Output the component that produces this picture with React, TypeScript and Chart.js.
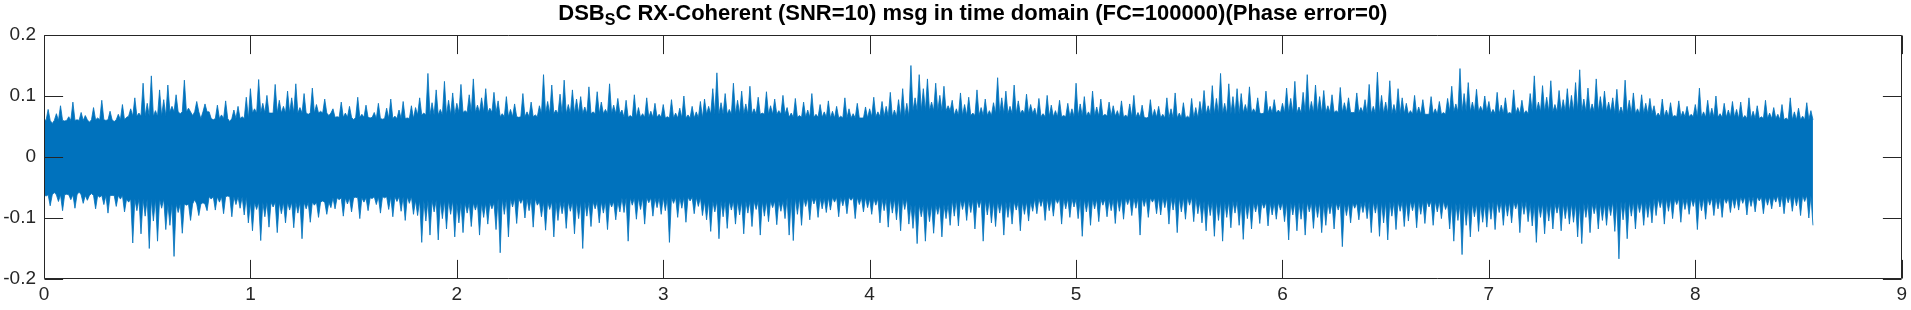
import React, { useEffect, useRef } from "react";
import { Chart, registerables } from "chart.js";

Chart.register(...registerables);

// ---- Text ----
const TITLE_MAIN = "DSB";
const TITLE_SUB = "S";
const TITLE_REST = "C RX-Coherent (SNR=10) msg in time domain (FC=100000)(Phase error=0)";

// ---- Axis ticks ----
const xTicks = [0, 1, 2, 3, 4, 5, 6, 7, 8, 9];
const yTicks = [-0.2, -0.1, 0, 0.1, 0.2];

// ---- Signal: spike tips (local max / min), one pair per 0.02 s (rows = 0.2 s) ----
const SAMPLE_STEP = 0.02;
const envMax = [
  0.062, 0.078, 0.055, 0.071, 0.084, 0.059, 0.066, 0.090, 0.061, 0.073,
  0.068, 0.057, 0.081, 0.064, 0.093, 0.060, 0.075, 0.058, 0.070, 0.086,
  0.065, 0.079, 0.097, 0.072, 0.121, 0.088, 0.133, 0.076, 0.110, 0.094,
  0.118, 0.083, 0.102, 0.071, 0.126, 0.080, 0.068, 0.091, 0.063, 0.087,
  0.074, 0.061, 0.085, 0.069, 0.092, 0.058, 0.077, 0.083, 0.066, 0.098,
  0.112, 0.079, 0.127, 0.088, 0.101, 0.072, 0.119, 0.093, 0.083, 0.108,
  0.097, 0.120, 0.081, 0.104, 0.070, 0.113, 0.086, 0.075, 0.095, 0.068,
  0.079, 0.066, 0.090, 0.072, 0.083, 0.061, 0.098, 0.070, 0.085, 0.064,
  0.073, 0.088, 0.062, 0.080, 0.095, 0.067, 0.077, 0.091, 0.064, 0.084,
  0.081, 0.097, 0.072, 0.137, 0.089, 0.110, 0.078, 0.124, 0.093, 0.105,
  0.088, 0.119, 0.076, 0.102, 0.128, 0.085, 0.097, 0.112, 0.080, 0.106,
  0.092, 0.071, 0.099, 0.078, 0.087, 0.065, 0.104, 0.074, 0.090, 0.069,
  0.084, 0.135, 0.091, 0.118, 0.077, 0.103, 0.126, 0.086, 0.110, 0.095,
  0.099, 0.082, 0.115, 0.074, 0.107, 0.090, 0.078, 0.120, 0.085, 0.096,
  0.077, 0.093, 0.068, 0.102, 0.081, 0.071, 0.097, 0.075, 0.088, 0.070,
  0.086, 0.066, 0.094, 0.072, 0.080, 0.100, 0.069, 0.083, 0.074, 0.091,
  0.095, 0.083, 0.112, 0.138, 0.089, 0.104, 0.078, 0.121, 0.093, 0.108,
  0.087, 0.116, 0.079, 0.098, 0.072, 0.107, 0.084, 0.095, 0.076, 0.101,
  0.081, 0.072, 0.096, 0.068, 0.090, 0.077, 0.104, 0.070, 0.086, 0.074,
  0.092, 0.075, 0.083, 0.067, 0.097, 0.079, 0.071, 0.088, 0.064, 0.082,
  0.079, 0.098, 0.074, 0.091, 0.083, 0.106, 0.077, 0.094, 0.112, 0.088,
  0.150, 0.097, 0.135, 0.112, 0.128, 0.090, 0.121, 0.101, 0.116, 0.084,
  0.093, 0.079, 0.105, 0.086, 0.098, 0.072, 0.110, 0.081, 0.095, 0.076,
  0.089, 0.130, 0.097, 0.108, 0.083, 0.118, 0.092, 0.077, 0.103, 0.086,
  0.080, 0.096, 0.071, 0.101, 0.085, 0.076, 0.093, 0.068, 0.088, 0.079,
  0.121, 0.087, 0.099, 0.074, 0.108, 0.082, 0.095, 0.070, 0.090, 0.084,
  0.076, 0.092, 0.069, 0.087, 0.101, 0.073, 0.085, 0.064, 0.094, 0.078,
  0.083, 0.070, 0.097, 0.079, 0.105, 0.072, 0.089, 0.067, 0.096, 0.081,
  0.091, 0.109, 0.084, 0.117, 0.096, 0.137, 0.088, 0.120, 0.099, 0.112,
  0.104, 0.086, 0.115, 0.079, 0.097, 0.071, 0.108, 0.083, 0.094, 0.077,
  0.088, 0.113, 0.096, 0.124, 0.082, 0.106, 0.135, 0.091, 0.118, 0.099,
  0.109, 0.084, 0.102, 0.076, 0.114, 0.089, 0.097, 0.073, 0.105, 0.081,
  0.094, 0.119, 0.083, 0.139, 0.101, 0.090, 0.125, 0.086, 0.112, 0.097,
  0.088, 0.076, 0.101, 0.082, 0.094, 0.070, 0.099, 0.079, 0.091, 0.073,
  0.096, 0.116, 0.087, 0.145, 0.104, 0.122, 0.090, 0.111, 0.083, 0.100,
  0.091, 0.078, 0.106, 0.085, 0.097, 0.073, 0.110, 0.081, 0.093, 0.076,
  0.104, 0.133, 0.090, 0.117, 0.098, 0.125, 0.086, 0.109, 0.094, 0.112,
  0.101, 0.122, 0.143, 0.095, 0.113, 0.087, 0.128, 0.099, 0.108, 0.090,
  0.097, 0.111, 0.082, 0.126, 0.093, 0.105, 0.079, 0.102, 0.088, 0.096,
  0.084, 0.072, 0.095, 0.077, 0.089, 0.068, 0.092, 0.075, 0.083, 0.070,
  0.086, 0.113, 0.074, 0.093, 0.080, 0.100, 0.071, 0.088, 0.077, 0.091,
  0.078, 0.090, 0.068, 0.097, 0.075, 0.084, 0.066, 0.093, 0.072, 0.081,
  0.070, 0.086, 0.064, 0.097, 0.074, 0.080, 0.067, 0.089, 0.076,
];
const envMin = [
  -0.064, -0.080, -0.058, -0.073, -0.088, -0.061, -0.070, -0.084, -0.057, -0.076,
  -0.071, -0.060, -0.085, -0.066, -0.078, -0.092, -0.063, -0.081, -0.069, -0.090,
  -0.074, -0.141, -0.088, -0.126, -0.097, -0.150, -0.105, -0.138, -0.084, -0.119,
  -0.112, -0.163, -0.091, -0.125, -0.079, -0.104, -0.070, -0.096, -0.075, -0.088,
  -0.069, -0.087, -0.074, -0.093, -0.064, -0.098, -0.078, -0.084, -0.095, -0.108,
  -0.121, -0.086, -0.137, -0.098, -0.115, -0.082, -0.124, -0.093, -0.108, -0.087,
  -0.116, -0.092, -0.134, -0.085, -0.107, -0.079, -0.099, -0.072, -0.094, -0.083,
  -0.085, -0.070, -0.097, -0.077, -0.090, -0.066, -0.101, -0.074, -0.088, -0.068,
  -0.078, -0.092, -0.067, -0.086, -0.098, -0.073, -0.089, -0.104, -0.076, -0.094,
  -0.096, -0.140, -0.105, -0.128, -0.090, -0.136, -0.101, -0.118, -0.094, -0.131,
  -0.108, -0.124, -0.092, -0.114, -0.087, -0.128, -0.099, -0.110, -0.085, -0.119,
  -0.157, -0.094, -0.131, -0.082, -0.109, -0.076, -0.100, -0.088, -0.115, -0.079,
  -0.098, -0.120, -0.086, -0.131, -0.104, -0.093, -0.117, -0.089, -0.126, -0.101,
  -0.150, -0.097, -0.114, -0.085, -0.108, -0.092, -0.119, -0.082, -0.103, -0.090,
  -0.091, -0.138, -0.079, -0.102, -0.086, -0.110, -0.075, -0.097, -0.083, -0.094,
  -0.088, -0.140, -0.076, -0.099, -0.084, -0.107, -0.072, -0.093, -0.081, -0.096,
  -0.103, -0.122, -0.090, -0.134, -0.098, -0.117, -0.087, -0.110, -0.095, -0.126,
  -0.092, -0.114, -0.086, -0.128, -0.097, -0.106, -0.083, -0.111, -0.089, -0.101,
  -0.128, -0.137, -0.094, -0.112, -0.081, -0.103, -0.077, -0.099, -0.085, -0.091,
  -0.087, -0.074, -0.098, -0.080, -0.093, -0.071, -0.101, -0.078, -0.090, -0.083,
  -0.094, -0.079, -0.108, -0.088, -0.115, -0.092, -0.103, -0.121, -0.086, -0.110,
  -0.117, -0.142, -0.098, -0.138, -0.106, -0.125, -0.094, -0.131, -0.101, -0.112,
  -0.097, -0.113, -0.086, -0.104, -0.091, -0.118, -0.083, -0.138, -0.095, -0.108,
  -0.114, -0.092, -0.128, -0.099, -0.110, -0.087, -0.121, -0.094, -0.105, -0.089,
  -0.093, -0.081, -0.104, -0.088, -0.097, -0.076, -0.110, -0.085, -0.099, -0.082,
  -0.101, -0.130, -0.090, -0.112, -0.085, -0.106, -0.079, -0.098, -0.088, -0.109,
  -0.089, -0.102, -0.078, -0.096, -0.084, -0.128, -0.081, -0.099, -0.074, -0.093,
  -0.095, -0.083, -0.110, -0.087, -0.124, -0.090, -0.102, -0.079, -0.106, -0.093,
  -0.108, -0.121, -0.096, -0.130, -0.104, -0.138, -0.099, -0.116, -0.092, -0.112,
  -0.135, -0.101, -0.118, -0.090, -0.109, -0.084, -0.113, -0.095, -0.102, -0.087,
  -0.106, -0.136, -0.095, -0.121, -0.102, -0.128, -0.090, -0.117, -0.099, -0.124,
  -0.112, -0.093, -0.118, -0.087, -0.147, -0.096, -0.108, -0.084, -0.103, -0.091,
  -0.101, -0.124, -0.092, -0.130, -0.108, -0.136, -0.097, -0.119, -0.089, -0.114,
  -0.105, -0.088, -0.116, -0.094, -0.109, -0.082, -0.112, -0.090, -0.101, -0.086,
  -0.118, -0.138, -0.104, -0.160, -0.112, -0.131, -0.098, -0.122, -0.107, -0.115,
  -0.102, -0.119, -0.091, -0.112, -0.097, -0.108, -0.085, -0.124, -0.094, -0.106,
  -0.113, -0.140, -0.099, -0.126, -0.105, -0.118, -0.092, -0.121, -0.101, -0.110,
  -0.107, -0.131, -0.142, -0.099, -0.124, -0.093, -0.118, -0.104, -0.112, -0.096,
  -0.122, -0.167, -0.103, -0.134, -0.097, -0.118, -0.091, -0.112, -0.099, -0.108,
  -0.096, -0.083, -0.110, -0.089, -0.101, -0.078, -0.107, -0.086, -0.094, -0.081,
  -0.119, -0.088, -0.102, -0.079, -0.096, -0.085, -0.099, -0.076, -0.091, -0.084,
  -0.087, -0.076, -0.095, -0.081, -0.090, -0.072, -0.093, -0.079, -0.085, -0.074,
  -0.082, -0.093, -0.075, -0.089, -0.080, -0.096, -0.073, -0.100, -0.112,
];

// ---- Signal: edge of the solid core between spikes, one value per 0.2 s ----
const CORE_STEP = 0.2;
const coreUp = [
  0.060, 0.061, 0.067, 0.074, 0.063, 0.072, 0.072, 0.065, 0.063, 0.069, 0.073, 0.066, 0.071, 0.071, 0.065,
  0.064, 0.070, 0.070, 0.065, 0.064, 0.066, 0.076, 0.068, 0.071, 0.066, 0.067, 0.065, 0.064, 0.070, 0.072,
  0.072, 0.073, 0.071, 0.070, 0.074, 0.071, 0.074, 0.074, 0.071, 0.066, 0.065, 0.063, 0.061,
];
const coreLo = [
  -0.062, -0.063, -0.069, -0.077, -0.065, -0.074, -0.074, -0.067, -0.065, -0.071, -0.075, -0.068, -0.073, -0.073, -0.067,
  -0.066, -0.072, -0.072, -0.067, -0.066, -0.068, -0.078, -0.070, -0.073, -0.068, -0.069, -0.067, -0.066, -0.072, -0.074,
  -0.074, -0.075, -0.073, -0.072, -0.076, -0.073, -0.076, -0.076, -0.073, -0.068, -0.067, -0.065, -0.063,
];

const LINE_COLOR = "#0072BD";
const AXIS_COLOR = "#262626";
const FONT = '"Liberation Sans", Arial, Helvetica, sans-serif';

const framePlugin = {
  id: "matlabFrame",
  afterDatasetsDraw(chart: any) {
    const { ctx, chartArea: a, scales } = chart;
    const L = Math.round(a.left) + 0.5;
    const R = Math.round(a.right) - 0.5;
    const T = Math.round(a.top) + 0.5;
    const B = Math.round(a.bottom) - 0.5;
    const tickLen = 18.6;
    ctx.save();
    ctx.strokeStyle = AXIS_COLOR;
    ctx.lineWidth = 1;
    ctx.beginPath();
    ctx.rect(L, T, R - L, B - T);
    for (const v of xTicks) {
      const x = Math.round(scales.x.getPixelForValue(v)) + 0.5;
      ctx.moveTo(x, B);
      ctx.lineTo(x, B - tickLen);
      ctx.moveTo(x, T);
      ctx.lineTo(x, T + tickLen);
    }
    for (const v of yTicks) {
      const y = Math.round(scales.y.getPixelForValue(v)) + 0.5;
      ctx.moveTo(L, y);
      ctx.lineTo(L + tickLen, y);
      ctx.moveTo(R, y);
      ctx.lineTo(R - tickLen, y);
    }
    ctx.stroke();
    ctx.restore();
  },
};

const titlePlugin = {
  id: "matlabTitle",
  afterDraw(chart: any) {
    const { ctx, chartArea: a } = chart;
    const mainFont = `bold 22px ${FONT}`;
    const subFont = `bold 16px ${FONT}`;
    ctx.save();
    ctx.fillStyle = "#000000";
    ctx.textBaseline = "alphabetic";
    ctx.textAlign = "left";
    ctx.font = mainFont;
    const w1 = ctx.measureText(TITLE_MAIN).width;
    const w3 = ctx.measureText(TITLE_REST).width;
    ctx.font = subFont;
    const w2 = ctx.measureText(TITLE_SUB).width;
    const total = w1 + w2 + w3;
    const cx = (a.left + a.right) / 2;
    let x = cx - total / 2;
    const baseY = 20;
    ctx.font = mainFont;
    ctx.fillText(TITLE_MAIN, x, baseY);
    x += w1;
    ctx.font = subFont;
    ctx.fillText(TITLE_SUB, x, baseY + 5);
    x += w2;
    ctx.font = mainFont;
    ctx.fillText(TITLE_REST, x, baseY);
    ctx.restore();
  },
};

export default function App() {
  const canvasRef = useRef<HTMLCanvasElement | null>(null);

  useEffect(() => {
    if (!canvasRef.current) return;

    // Upper outline: spike tip, then the core edge between spikes; lower outline mirrors it.
    const upperPts: { x: number; y: number }[] = [];
    const lowerPts: { x: number; y: number }[] = [];
    for (let i = 0; i < envMax.length; i++) {
      const t = i * SAMPLE_STEP;
      const bin = Math.min(coreUp.length - 1, Math.floor(t / CORE_STEP + 1e-9));
      upperPts.push({ x: t, y: envMax[i] });
      upperPts.push({ x: t + SAMPLE_STEP / 2, y: coreUp[bin] });
      lowerPts.push({ x: t, y: coreLo[bin] });
      lowerPts.push({ x: t + SAMPLE_STEP / 2, y: envMin[i] });
    }

    const chart = new Chart(canvasRef.current, {
      type: "line",
      data: {
        datasets: [
          {
            data: upperPts,
            borderWidth: 0.8,
            borderColor: LINE_COLOR,
            backgroundColor: LINE_COLOR,
            fill: "+1",
            pointRadius: 0,
            tension: 0,
          },
          {
            data: lowerPts,
            borderWidth: 0.8,
            borderColor: LINE_COLOR,
            backgroundColor: LINE_COLOR,
            fill: false,
            pointRadius: 0,
            tension: 0,
          },
        ],
      },
      options: {
        animation: false,
        responsive: true,
        maintainAspectRatio: false,
        layout: { padding: { top: 35, right: 9, left: 0, bottom: 0 } },
        plugins: {
          legend: { display: false },
          tooltip: { enabled: false },
          title: { display: false },
        },
        scales: {
          x: {
            type: "linear",
            min: 0,
            max: 9,
            grid: { display: false, drawTicks: false },
            border: { display: false },
            afterBuildTicks: (scale: any) => {
              scale.ticks = xTicks.map((v) => ({ value: v }));
            },
            afterFit: (scale: any) => {
              scale.height = 31;
            },
            ticks: {
              color: AXIS_COLOR,
              font: { family: FONT, size: 19 },
              padding: 4,
              maxRotation: 0,
              autoSkip: false,
              callback: (v: any) => String(v),
            },
          },
          y: {
            type: "linear",
            min: -0.2,
            max: 0.2,
            grid: { display: false, drawTicks: false },
            border: { display: false },
            afterBuildTicks: (scale: any) => {
              scale.ticks = yTicks.map((v) => ({ value: v }));
            },
            afterFit: (scale: any) => {
              scale.width = 44;
            },
            ticks: {
              color: AXIS_COLOR,
              font: { family: FONT, size: 19 },
              padding: 8,
              autoSkip: false,
              callback: (v: any) => String(Number(Number(v).toFixed(1))),
            },
          },
        },
      },
      plugins: [framePlugin, titlePlugin],
    });

    return () => chart.destroy();
  }, []);

  return (
    <div
      style={{
        position: "fixed",
        left: 0,
        top: 0,
        width: 1911,
        height: 310,
        background: "#ffffff",
      }}
    >
      <canvas ref={canvasRef} />
    </div>
  );
}
